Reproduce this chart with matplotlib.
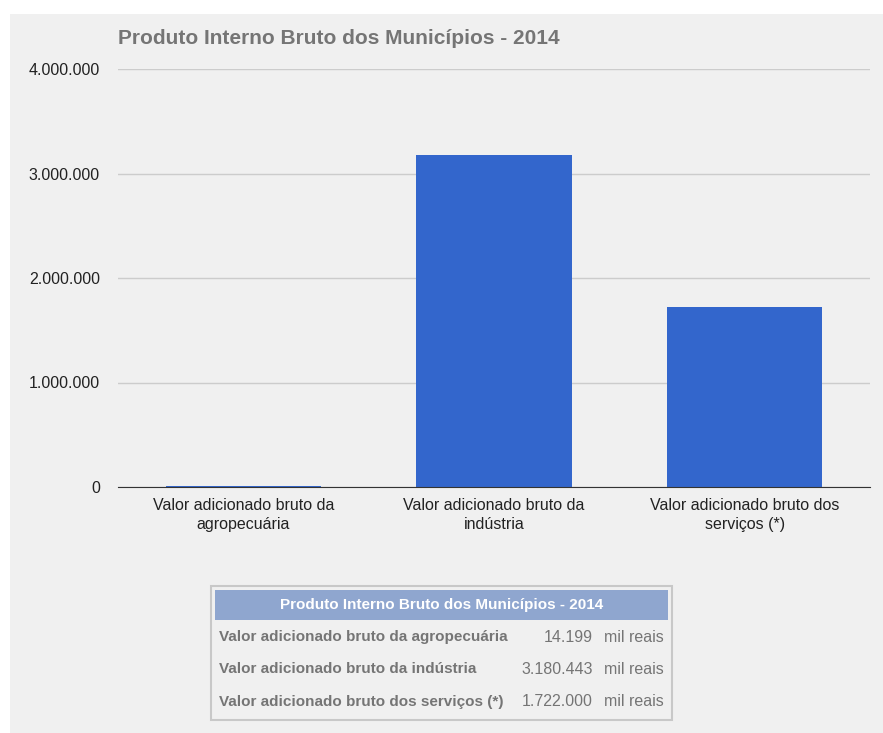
import matplotlib.pyplot as plt
from matplotlib.patches import Rectangle
from matplotlib.ticker import FuncFormatter

plt.rcParams['font.family'] = ['Liberation Sans', 'DejaVu Sans']

# data
title = 'Produto Interno Bruto dos Municípios - 2014'
categories = ['Valor adicionado bruto da\nagropecuária',
              'Valor adicionado bruto da\nindústria',
              'Valor adicionado bruto dos\nserviços (*)']
table_labels = ['Valor adicionado bruto da agropecuária',
                'Valor adicionado bruto da indústria',
                'Valor adicionado bruto dos serviços (*)']
values = [14199, 3180443, 1722000]
unit = 'mil reais'
yticks = [0, 1000000, 2000000, 3000000, 4000000]

W, H = 883, 733
bg = '#f0f0f0'
txt_gray = '#757575'

def fx(px):
    return px / W

def fy(py):
    return 1 - py / H

def br(v):
    return f'{int(v):,}'.replace(',', '.')

fig = plt.figure(figsize=(W / 100, H / 100), dpi=100)
fig.patch.set_facecolor('white')
fig.patches.append(Rectangle((fx(10), 0), fx(W - 10), fy(14), transform=fig.transFigure,
                             facecolor=bg, edgecolor='none', zorder=-10))

ax = fig.add_axes([fx(118), fy(487), fx(752), fy(69) - fy(487)])
ax.set_facecolor(bg)
x = range(len(values))
ax.bar(x, values, width=0.62, color='#3366cc', zorder=3)
ax.set_xlim(-0.5, 2.5)
ax.set_ylim(0, 4000000)
ax.set_yticks(yticks)
ax.yaxis.set_major_formatter(FuncFormatter(lambda v, p: br(v)))
ax.set_xticks(list(x))
ax.set_xticklabels(categories, linespacing=1.3)
ax.tick_params(length=0, labelsize=11.5, colors='#222222')
ax.tick_params(axis='y', pad=13)
ax.tick_params(axis='x', pad=8)
for s in ['top', 'right', 'left']:
    ax.spines[s].set_visible(False)
ax.spines['bottom'].set_color('#333333')
ax.spines['bottom'].set_zorder(4)
ax.grid(axis='y', color='#cccccc', linewidth=1, zorder=0)

fig.text(fx(118), fy(38), title, fontsize=15, fontweight='bold', color=txt_gray,
         va='center', ha='left')

# summary table
fig.patches.append(Rectangle((fx(211), fy(720)), fx(461), fy(586) - fy(720),
                             transform=fig.transFigure, facecolor=bg,
                             edgecolor='#c8c8c8', linewidth=1.5))
fig.patches.append(Rectangle((fx(215), fy(620)), fx(453), fy(590) - fy(620),
                             transform=fig.transFigure, facecolor='#8fa6cf',
                             edgecolor='none'))
fig.text(fx(442), fy(605), title, fontsize=11, fontweight='bold', color='white',
         ha='center', va='center')
row_y = [637, 669, 702]
for lab, v, ry in zip(table_labels, values, row_y):
    fig.text(fx(219), fy(ry), lab, fontsize=11, fontweight='bold', color=txt_gray,
             ha='left', va='center')
    fig.text(fx(593), fy(ry), br(v), fontsize=11.5, color=txt_gray, ha='right', va='center')
    fig.text(fx(604), fy(ry), unit, fontsize=11.5, color=txt_gray, ha='left', va='center')

fig.savefig('out.png', dpi=100)
